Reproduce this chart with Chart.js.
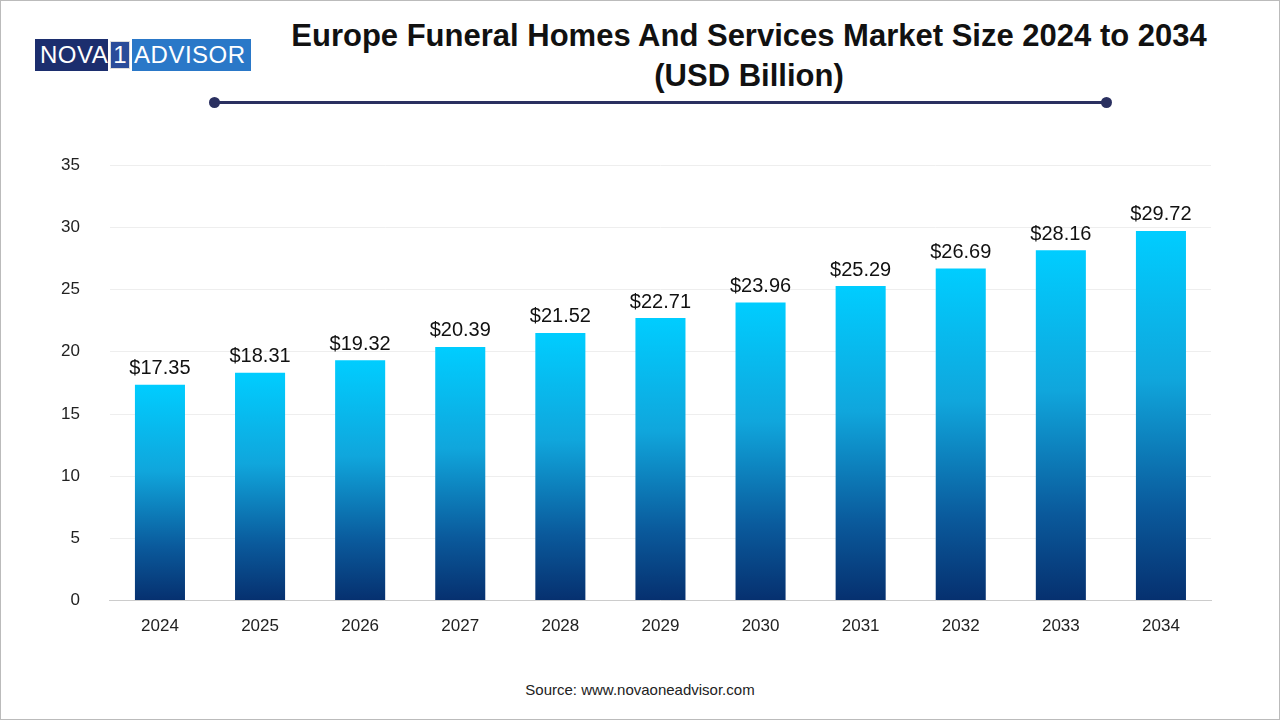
<!DOCTYPE html>
<html>
<head>
<meta charset="utf-8">
<script src="https://cdn.jsdelivr.net/npm/chart.js@4"></script>
<style>
  body { margin: 0; background: #fff; font-family: Arial, "Liberation Sans", sans-serif; }
  #wrap { position: relative; width: 1278px; height: 718px; border: 1px solid #bbb; }
  #logo { position: absolute; left: 34px; top: 38px; height: 32px; display: flex; font-size: 24px; color: #fff; letter-spacing: 0.5px; }
  #logo .a { background: #1c2e6e; padding: 0 0 0 5px; line-height: 32px; }
  #logo .one { border: 1.5px solid #ddd; margin: 2px 2px; padding: 0 2px; line-height: 26px; background: #2a4c9a; }
  #logo .b { background: #2a78c8; padding: 0 5px 0 2px; line-height: 32px; }
  #title { position: absolute; left: 248px; width: 1000px; top: 15px; text-align: center; font-size: 31px; font-weight: bold; color: #111; line-height: 40px; }
  #rule { position: absolute; left: 213px; width: 893px; top: 100px; height: 3px; background: #2a3060; }
  .dot { position: absolute; top: 96px; width: 11px; height: 11px; border-radius: 50%; background: #2a3060; }
  #source { position: absolute; top: 680px; width: 100%; text-align: center; font-size: 15px; color: #222; }
  #box { position: absolute; left: 30px; top: 124px; width: 1192px; height: 520px; }
</style>
</head>
<body>
<div id="wrap">
  <div id="logo"><span class="a">NOVA</span><span class="one">1</span><span class="b">ADVISOR</span></div>
  <div id="title">Europe Funeral Homes And Services Market Size 2024 to 2034<br>(USD Billion)</div>
  <div id="rule"></div>
  <div class="dot" style="left:208px"></div>
  <div class="dot" style="left:1100px"></div>
  <div id="box"><canvas id="chart"></canvas></div>
  <div id="source">Source: www.novaoneadvisor.com</div>
</div>
<script>
const years = ['2024', '2025', '2026', '2027', '2028', '2029', '2030', '2031', '2032', '2033', '2034'];
const marketSize = [17.35, 18.31, 19.32, 20.39, 21.52, 22.71, 23.96, 25.29, 26.69, 28.16, 29.72];
const yTicks = [0, 5, 10, 15, 20, 25, 30, 35];

// Each bar fades from light cyan at its own top to navy at the axis
function barGradient(context) {
  const chart = context.chart;
  const area = chart.chartArea;
  if (!area || context.dataIndex === undefined) return '#00c8ff';
  const top = chart.scales.y.getPixelForValue(marketSize[context.dataIndex]);
  const g = chart.ctx.createLinearGradient(0, top, 0, area.bottom);
  g.addColorStop(0, '#00cdff');
  g.addColorStop(0.4, '#10a6dc');
  g.addColorStop(0.75, '#0a5a9c');
  g.addColorStop(1, '#06306f');
  return g;
}

// Draw the dollar labels above the bars
const valueLabels = {
  id: 'valueLabels',
  afterDatasetsDraw(chart) {
    const ctx = chart.ctx;
    ctx.save();
    ctx.font = '20px Arial, "Liberation Sans", sans-serif';
    ctx.fillStyle = '#111';
    ctx.textAlign = 'center';
    ctx.textBaseline = 'bottom';
    chart.getDatasetMeta(0).data.forEach((bar, i) => {
      ctx.fillText('$' + marketSize[i].toFixed(2), bar.x, bar.y - 6);
    });
    ctx.restore();
  }
};

new Chart(document.getElementById('chart'), {
  type: 'bar',
  data: {
    labels: years,
    datasets: [{
      data: marketSize,
      backgroundColor: barGradient,
      barPercentage: 0.5,
      categoryPercentage: 1.0
    }]
  },
  options: {
    responsive: true,
    maintainAspectRatio: false,
    animation: false,
    layout: { padding: { top: 25, right: 12 } },
    plugins: { legend: { display: false }, tooltip: { enabled: false } },
    scales: {
      x: {
        grid: { display: false },
        border: { color: '#ccc' },
        ticks: { color: '#222', font: { size: 17 }, padding: 8 }
      },
      y: {
        min: 0, max: 35,
        afterBuildTicks: (axis) => { axis.ticks = yTicks.map(v => ({ value: v })); },
        grid: { color: '#eee', drawTicks: false },
        border: { display: false },
        ticks: { color: '#222', font: { size: 17 }, padding: 30 }
      }
    }
  },
  plugins: [valueLabels]
});
</script>
</body>
</html>
